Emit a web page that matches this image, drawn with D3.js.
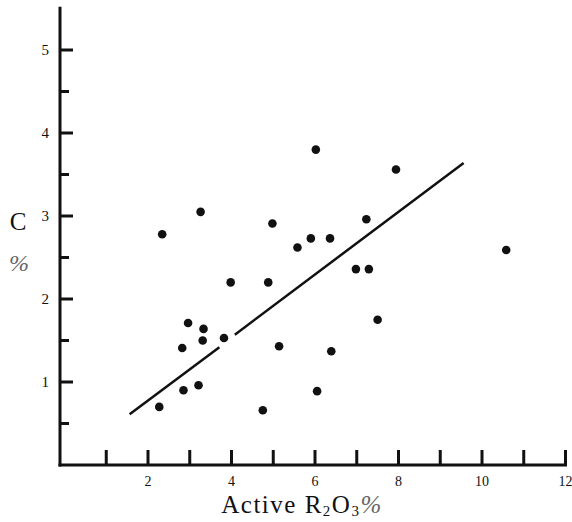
<!DOCTYPE html>
<html lang="en">
  <head>
    <meta charset="utf-8">
    <title>C vs Active R2O3</title>
    <script src="https://d3js.org/d3.v7.min.js"></script>
    <style>
      body { margin: 0; background: #fff; }
      text { font-family: "Liberation Serif", "DejaVu Serif", serif; fill: #111; }
    </style>
  </head>
  <body>
    <script>

  // data
  var r2o3 = [2.34, 3.26, 6.02, 4.98, 5.58, 5.90, 6.36, 7.94, 7.23, 10.58, 6.98, 7.29, 7.50, 6.39,
              6.05, 3.98, 4.88, 2.96, 3.33, 3.31, 3.82, 2.82, 5.14, 2.85, 3.21, 2.27, 4.75];
  var carbon = [2.78, 3.05, 3.80, 2.91, 2.62, 2.73, 2.73, 3.56, 2.96, 2.59, 2.36, 2.36, 1.75, 1.37,
                0.89, 2.20, 2.20, 1.71, 1.64, 1.50, 1.53, 1.41, 1.43, 0.90, 0.96, 0.70, 0.66];
  // fitted line, drawn in two pieces (gap near a point)
  var lineX = [[1.56, 3.71], [4.08, 9.56]];
  var lineY = [[0.61, 1.42], [1.57, 3.64]];
  var xTicks = [1, 2, 3, 4, 5, 6, 7, 8, 9, 10, 11, 12];
  var xLabels = [2, 4, 6, 8, 10, 12];
  var yTicks = [0.5, 1, 1.5, 2, 2.5, 3, 3.5, 4, 4.5, 5];
  var yLabels = [1, 2, 3, 4, 5];

  var w = 572;
  var h = 522;

  var xScale = d3.scaleLinear().domain([0, 12]).range([64.5, 565.5]);
  var yScale = d3.scaleLinear().domain([0, 5]).range([465, 50]);

  var svg = d3.select("body")
    .append("svg")
    .attr("width", w)
    .attr("height", h);

  var ink = "#111";
  var x0 = 60;   // y axis line position
  var y0 = yScale(0);

  // axis lines
  svg.append("line")
    .attr("x1", x0).attr("x2", x0)
    .attr("y1", yScale(5.52)).attr("y2", y0 + 1.5)
    .attr("stroke", ink).attr("stroke-width", 3);
  svg.append("line")
    .attr("x1", x0 - 1.5).attr("x2", xScale(12) + 1.5)
    .attr("y1", y0).attr("y2", y0)
    .attr("stroke", ink).attr("stroke-width", 3);

  // x ticks point up into the plot
  svg.selectAll(".xtick")
    .data(xTicks)
    .enter()
    .append("line")
    .attr("class", "xtick")
    .attr("x1", d => xScale(d)).attr("x2", d => xScale(d))
    .attr("y1", y0).attr("y2", y0 - 15)
    .attr("stroke", ink).attr("stroke-width", 3);

  svg.selectAll(".xlab")
    .data(xLabels)
    .enter()
    .append("text")
    .attr("class", "xlab")
    .attr("x", d => xScale(d))
    .attr("y", 486)
    .attr("text-anchor", "middle")
    .style("font-size", "14px")
    .text(d => d);

  // y ticks point right, integer ones a bit longer
  svg.selectAll(".ytick")
    .data(yTicks)
    .enter()
    .append("line")
    .attr("class", "ytick")
    .attr("x1", x0).attr("x2", d => x0 + (d % 1 === 0 ? 13 : 9))
    .attr("y1", d => yScale(d)).attr("y2", d => yScale(d))
    .attr("stroke", ink).attr("stroke-width", 3);

  svg.selectAll(".ylab")
    .data(yLabels)
    .enter()
    .append("text")
    .attr("class", "ylab")
    .attr("x", 49)
    .attr("y", d => yScale(d) + 5)
    .attr("text-anchor", "end")
    .style("font-size", "15px")
    .text(d => d);

  // regression line
  svg.selectAll(".fit")
    .data(d3.range(lineX.length))
    .enter()
    .append("line")
    .attr("class", "fit")
    .attr("x1", i => xScale(lineX[i][0])).attr("x2", i => xScale(lineX[i][1]))
    .attr("y1", i => yScale(lineY[i][0])).attr("y2", i => yScale(lineY[i][1]))
    .attr("stroke", ink).attr("stroke-width", 2.5);

  // points
  svg.selectAll(".dot")
    .data(r2o3)
    .enter()
    .append("circle")
    .attr("class", "dot")
    .attr("cx", d => xScale(d))
    .attr("cy", (d, i) => yScale(carbon[i]))
    .attr("r", 4.3)
    .attr("fill", ink);

  // axis titles
  svg.append("text")
    .attr("x", 18).attr("y", 230)
    .attr("text-anchor", "middle")
    .style("font-size", "25px")
    .text("C");
  svg.append("text")
    .attr("x", 19).attr("y", 271)
    .attr("text-anchor", "middle")
    .style("font-size", "24px")
    .style("font-style", "italic")
    .style("fill", "#666")
    .text("%");

  var xt = svg.append("text")
    .attr("x", 302).attr("y", 513)
    .attr("text-anchor", "middle")
    .style("font-size", "25px")
    .style("letter-spacing", "1.5px");
  xt.append("tspan").text("Active R");
  xt.append("tspan").attr("dy", 3).style("font-size", "15px").text("2");
  xt.append("tspan").attr("dy", -3).text("O");
  xt.append("tspan").attr("dy", 3).style("font-size", "15px").text("3");
  xt.append("tspan").attr("dy", -3).style("font-style", "italic").style("fill", "#666").text("%");

    </script>
  </body>
</html>
